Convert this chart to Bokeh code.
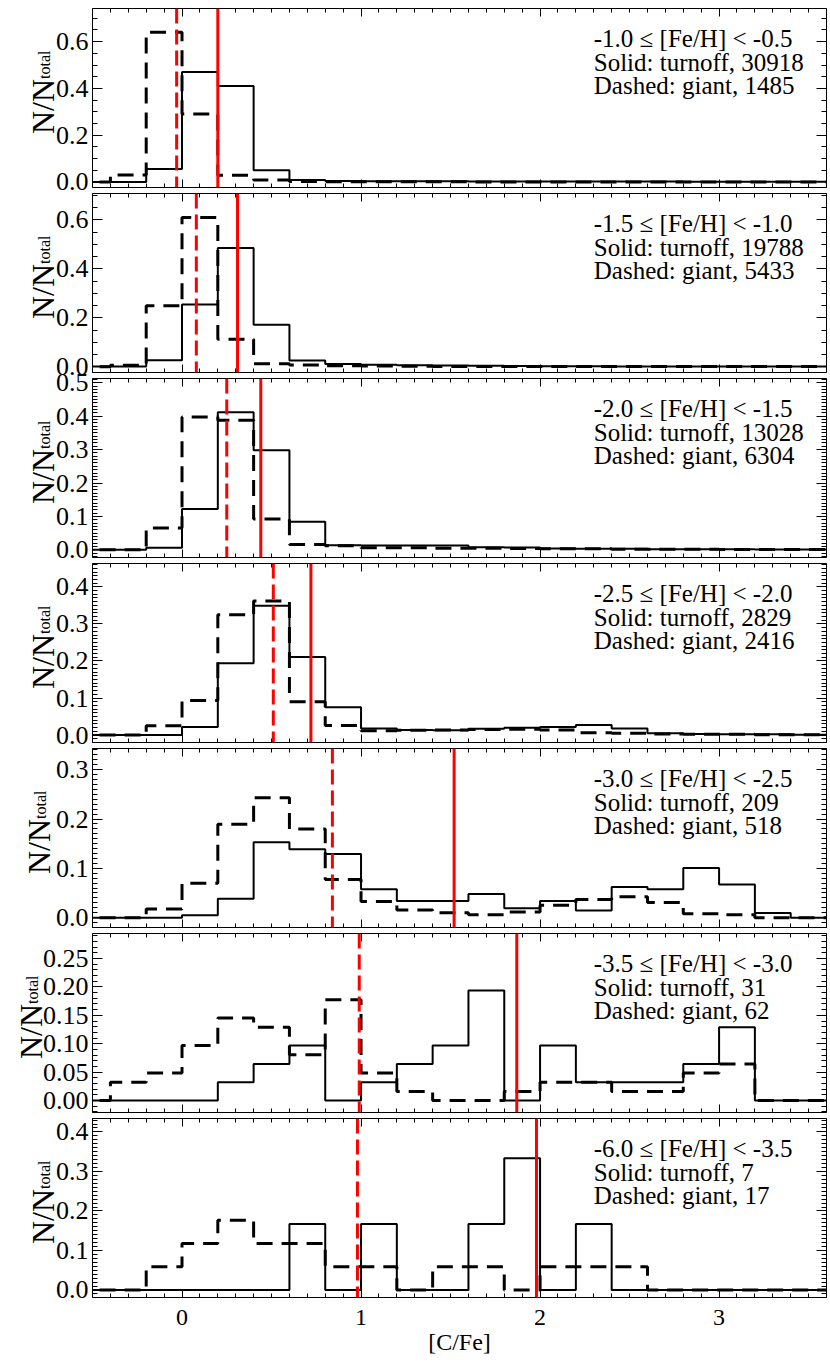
import math
from bokeh.plotting import figure
from bokeh.layouts import column, row
from bokeh.models import (Range1d, LinearAxis, SingleIntervalTicker,
                          PrintfTickFormatter, Span, Label)
from bokeh.embed import file_html
from bokeh.resources import INLINE

# ---------------- data ----------------
bin_start = -0.6
bin_width = 0.2
n_bins = 21
bin_edges = [round(bin_start + bin_width * i, 2) for i in range(n_bins + 1)]

feh_bins = ["-1.0 \u2264 [Fe/H] < -0.5", "-1.5 \u2264 [Fe/H] < -1.0",
            "-2.0 \u2264 [Fe/H] < -1.5", "-2.5 \u2264 [Fe/H] < -2.0",
            "-3.0 \u2264 [Fe/H] < -2.5", "-3.5 \u2264 [Fe/H] < -3.0",
            "-6.0 \u2264 [Fe/H] < -3.5"]
n_turnoff = [30918, 19788, 13028, 2829, 209, 31, 7]
n_giant = [1485, 5433, 6304, 2416, 518, 62, 17]
mean_turnoff = [0.20, 0.31, 0.44, 0.72, 1.52, 1.87, 1.98]
mean_giant = [-0.03, 0.08, 0.25, 0.51, 0.84, 0.99, 0.98]

turnoff_p1 = [0.0, 0.0, 0.055, 0.47, 0.41, 0.05, 0.008, 0.004, 0.003, 0.003, 0.003,
              0.002, 0.002, 0.002, 0.002, 0.002, 0.002, 0.001, 0.001, 0.001, 0.001]
giant_p1 = [0.0, 0.03, 0.64, 0.29, 0.028, 0.008, 0.002, 0.001, 0.001, 0.001, 0.001,
            0.0, 0.0, 0.0, 0.0, 0.0, 0.0, 0.0, 0.0, 0.0, 0.0]
turnoff_p2 = [0.002, 0.002, 0.027, 0.255, 0.485, 0.172, 0.026, 0.012, 0.009, 0.007, 0.006,
              0.005, 0.004, 0.003, 0.003, 0.002, 0.002, 0.002, 0.002, 0.001, 0.001]
giant_p2 = [0.0, 0.007, 0.25, 0.61, 0.113, 0.013, 0.008, 0.005, 0.004, 0.003, 0.002,
            0.002, 0.002, 0.002, 0.001, 0.001, 0.001, 0.001, 0.001, 0.001, 0.001]
turnoff_p3 = [0.0, 0.0, 0.006, 0.122, 0.412, 0.298, 0.084, 0.014, 0.013, 0.013, 0.013,
              0.008, 0.007, 0.004, 0.003, 0.003, 0.002, 0.002, 0.002, 0.001, 0.001]
giant_p3 = [0.0, 0.0, 0.065, 0.398, 0.388, 0.092, 0.016, 0.012, 0.006, 0.006, 0.005,
            0.005, 0.004, 0.003, 0.003, 0.002, 0.002, 0.002, 0.001, 0.001, 0.001]
turnoff_p4 = [0.0, 0.0, 0.0, 0.022, 0.194, 0.349, 0.211, 0.075, 0.018, 0.014, 0.013,
              0.017, 0.02, 0.022, 0.027, 0.018, 0.005, 0.003, 0.002, 0.002, 0.001]
giant_p4 = [0.0, 0.0, 0.025, 0.093, 0.325, 0.362, 0.09, 0.026, 0.012, 0.013, 0.014,
            0.015, 0.016, 0.014, 0.006, 0.005, 0.003, 0.002, 0.002, 0.001, 0.001]
turnoff_p5 = [0.0, 0.0, 0.0, 0.0048, 0.0383, 0.1531, 0.1388, 0.1292, 0.0574, 0.0335, 0.0335,
              0.0478, 0.0191, 0.0335, 0.0144, 0.0622, 0.0574, 0.1005, 0.067, 0.0096, 0.0]
giant_p5 = [0.0, 0.0, 0.0174, 0.0695, 0.1892, 0.2432, 0.1795, 0.0772, 0.0328, 0.0154, 0.0097,
            0.0058, 0.0116, 0.0251, 0.0367, 0.0425, 0.0309, 0.0077, 0.0058, 0.0, 0.0]
turnoff_p6 = [0.0, 0.0, 0.0, 0.0, 0.0323, 0.0645, 0.0968, 0.0, 0.0323, 0.0645, 0.0968,
              0.1935, 0.0, 0.0968, 0.0323, 0.0323, 0.0323, 0.0645, 0.129, 0.0, 0.0]
giant_p6 = [0.0, 0.0323, 0.0484, 0.0968, 0.1452, 0.129, 0.0806, 0.1774, 0.0484, 0.0161, 0.0,
            0.0, 0.0161, 0.0323, 0.0323, 0.0161, 0.0161, 0.0484, 0.0645, 0.0, 0.0]
turnoff_p7 = [0.0, 0.0, 0.0, 0.0, 0.0, 0.0, 0.1667, 0.0, 0.1667, 0.0, 0.0,
              0.1667, 0.3333, 0.0, 0.1667, 0.0, 0.0, 0.0, 0.0, 0.0, 0.0]
giant_p7 = [0.0, 0.0, 0.0588, 0.1176, 0.1765, 0.1176, 0.1176, 0.0588, 0.0588, 0.0, 0.0588,
            0.0588, 0.0, 0.0588, 0.0588, 0.0588, 0.0, 0.0, 0.0, 0.0, 0.0]

turnoff_all = [turnoff_p1, turnoff_p2, turnoff_p3, turnoff_p4, turnoff_p5, turnoff_p6, turnoff_p7]
giant_all = [giant_p1, giant_p2, giant_p3, giant_p4, giant_p5, giant_p6, giant_p7]

# ---------------- styling / layout ----------------
y_ranges = [(-0.024, 0.742), (-0.023, 0.708), (-0.023, 0.513), (-0.02, 0.463),
            (-0.02, 0.343), (-0.021, 0.294), (-0.019, 0.434)]
y_interval = [0.2, 0.2, 0.1, 0.1, 0.1, 0.05, 0.1]
y_minor = [4, 4, 10, 10, 10, 5, 10]
y_format = ["%.1f", "%.1f", "%.1f", "%.1f", "%.1f", "%.2f", "%.1f"]
ylab_x = [42, 42, 42, 42, 38, 30, 42]      # baseline position of the y label, px

FONT = "Liberation Serif"
FRAME_H = 179
FRAME_W = 734
LEFT = 92
RIGHT = 4
PAD = 12          # transparent overlap border between stacked panels
GAP = 6           # visible gap between two panel frames
LAB_W = 60


def style_axis(ax, major_in, minor_in, show_labels, font_size="25px", standoff=4):
    ax.major_tick_in = major_in
    ax.major_tick_out = 0
    ax.minor_tick_in = minor_in
    ax.minor_tick_out = 0
    ax.axis_line_color = "black"
    ax.axis_line_width = 1
    ax.major_tick_line_color = "black"
    ax.minor_tick_line_color = "black"
    ax.major_label_text_font = FONT
    if show_labels:
        ax.major_label_text_color = "black"
        ax.major_label_text_font_size = font_size
        ax.major_label_standoff = standoff
    else:
        ax.major_label_text_color = None
        ax.major_label_text_font_size = "0px"
        ax.major_label_standoff = 0


rows = []
n_panels = len(feh_bins)
for i in range(n_panels):
    last = i == n_panels - 1
    top = 8 if i == 0 else PAD
    bottom = 67 if last else PAD
    height = top + FRAME_H + bottom
    ylo, yhi = y_ranges[i]

    # --- narrow transparent figure carrying the y-axis title ---
    lab = figure(width=LAB_W, height=height, x_range=Range1d(0, LAB_W),
                 y_range=Range1d(ylo, yhi), output_backend="svg", toolbar_location=None,
                 x_axis_location=None, y_axis_location=None,
                 min_border_left=0, min_border_right=0,
                 min_border_top=top, min_border_bottom=bottom,
                 outline_line_color=None, background_fill_color=None,
                 border_fill_color=None)
    lab.xgrid.visible = False
    lab.ygrid.visible = False
    ymid = 0.5 * (ylo + yhi)
    lab.add_layout(Label(x=ylab_x[i], y=ymid, y_offset=-36, text="N/N",
                         angle=math.pi / 2, text_font=FONT, text_font_size="32px",
                         text_color="black", text_baseline="alphabetic", text_align="left"))
    lab.add_layout(Label(x=ylab_x[i] + 2, y=ymid, y_offset=19, text="total",
                         angle=math.pi / 2, text_font=FONT, text_font_size="16px",
                         text_color="black", text_baseline="alphabetic", text_align="left"))

    # --- main panel ---
    p = figure(width=LEFT + FRAME_W + RIGHT, height=height,
               x_range=Range1d(-0.5, 3.6), y_range=Range1d(ylo, yhi),
               output_backend="svg", toolbar_location=None,
               x_axis_location=None, y_axis_location=None,
               min_border_left=LEFT, min_border_right=RIGHT,
               min_border_top=top, min_border_bottom=bottom,
               outline_line_color=None, background_fill_color="white",
               border_fill_color=None, margin=(0, 0, 0, -LAB_W))
    p.xgrid.visible = False
    p.ygrid.visible = False

    xb = LinearAxis(ticker=SingleIntervalTicker(interval=1, num_minor_ticks=10),
                    formatter=PrintfTickFormatter(format="%d"))
    style_axis(xb, 8, 4, last, font_size="24px", standoff=12)
    if last:
        xb.axis_label = "[C/Fe]"
        xb.axis_label_text_font = FONT
        xb.axis_label_text_font_size = "24px"
        xb.axis_label_text_font_style = "normal"
        xb.axis_label_text_color = "black"
        xb.axis_label_standoff = 1
    p.add_layout(xb, "below")
    xa = LinearAxis(ticker=SingleIntervalTicker(interval=1, num_minor_ticks=10))
    style_axis(xa, 8, 4, False)
    p.add_layout(xa, "above")

    yl = LinearAxis(ticker=SingleIntervalTicker(interval=y_interval[i], num_minor_ticks=y_minor[i]),
                    formatter=PrintfTickFormatter(format=y_format[i]))
    style_axis(yl, 10, 5, True, font_size="26px", standoff=4)
    p.add_layout(yl, "left")
    yr = LinearAxis(ticker=SingleIntervalTicker(interval=y_interval[i], num_minor_ticks=y_minor[i]))
    style_axis(yr, 10, 5, False)
    p.add_layout(yr, "right")

    # histograms (giant dashed, turnoff solid)
    g = giant_all[i]
    t = turnoff_all[i]
    p.step(x=bin_edges, y=g + [g[-1]], mode="after", line_color="black",
           line_width=3, line_dash="16 9")
    p.step(x=bin_edges, y=t + [t[-1]], mode="after", line_color="black",
           line_width=2)

    # mean [C/Fe] lines
    p.add_layout(Span(location=mean_giant[i], dimension="height", line_color="#ff0000",
                      line_width=3, line_dash="15 6"))
    p.add_layout(Span(location=mean_turnoff[i], dimension="height", line_color="#ff0000",
                      line_width=3))

    # annotation text
    lines = [feh_bins[i], "Solid: turnoff, %d" % n_turnoff[i], "Dashed: giant, %d" % n_giant[i]]
    for txt, off in zip(lines, [30, 54, 77]):
        p.add_layout(Label(x=2.3, y=yhi, y_offset=-off, text=txt, text_font=FONT,
                           text_font_size="25px", text_color="black",
                           text_baseline="alphabetic", text_align="left"))

    r = row(lab, p, margin=(0 if i == 0 else -(2 * PAD - GAP), 0, 0, 0))
    rows.append(r)

layout = column(*rows)
open("out.html", "w").write(file_html(layout, INLINE))
